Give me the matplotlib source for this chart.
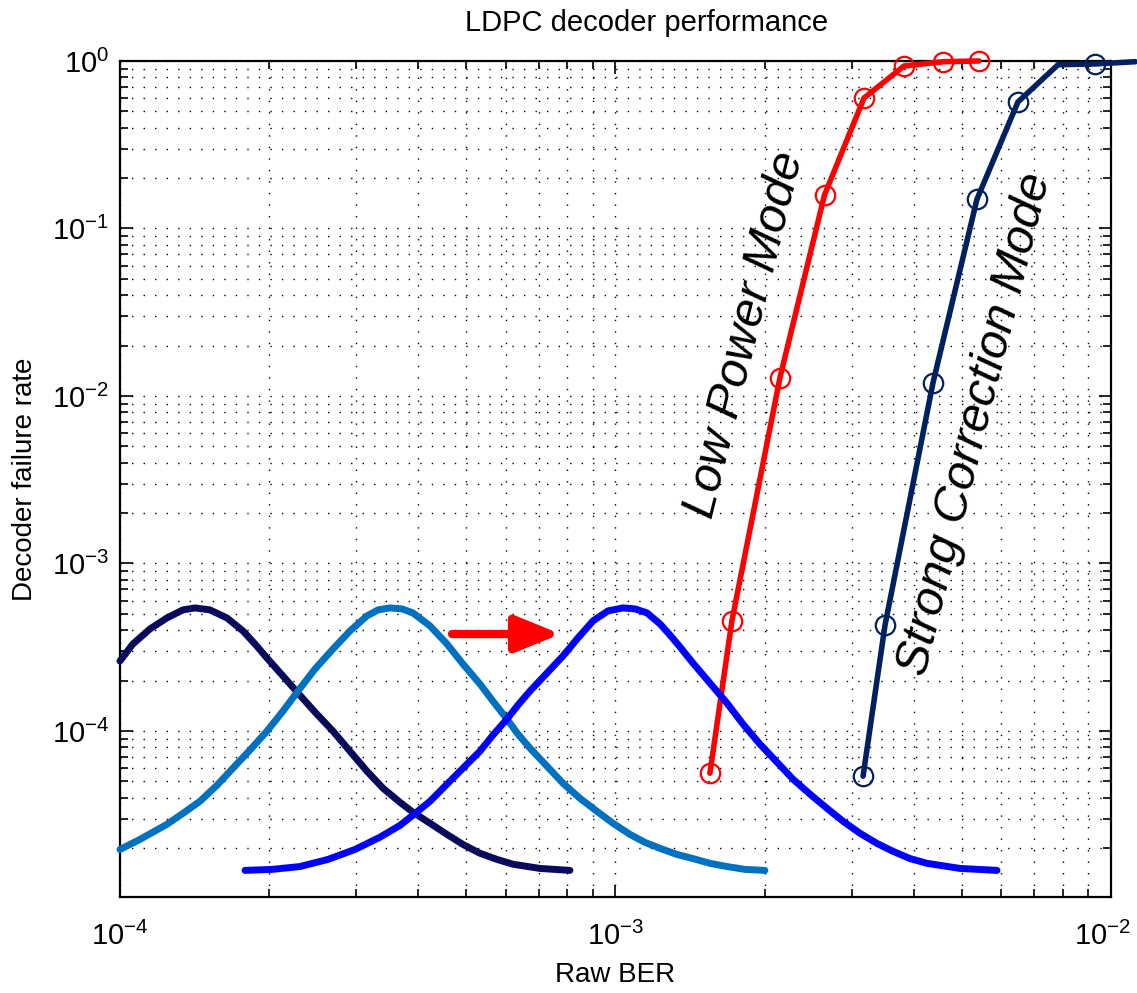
"""LDPC decoder performance: failure rate vs raw BER, with BER distributions."""
import matplotlib
matplotlib.use('Agg')
import matplotlib.pyplot as plt
import matplotlib.ticker as mticker
import matplotlib.transforms as mtransforms

plt.rcParams.update({
    'font.family': ['Liberation Sans', 'DejaVu Sans'],
    'mathtext.fontset': 'custom',
    'mathtext.rm': 'Liberation Sans',
    'mathtext.it': 'Liberation Sans:italic',
    'font.size': 20,
})

# decoder failure curves (x: raw BER, y: failure rate)
low_x = [1.551e-3, 1.718e-3, 2.148e-3, 2.642e-3, 3.174e-3, 3.821e-3, 4.59e-3, 5.415e-3]
low_y = [5.59e-5, 4.54e-4, 1.288e-2, 0.1586, 0.601, 0.933, 0.99, 1.0]

strong_x = [3.16e-3, 3.50e-3, 4.374e-3, 5.365e-3, 6.49e-3, 7.82e-3, 9.28e-3, 11.2e-3]
strong_y = [5.37e-5, 4.29e-4, 1.20e-2, 0.1495, 0.569, 0.95, 0.96, 0.99]
strong_marks = [0, 1, 2, 3, 4, 6]

# raw BER distributions (both x and y in units of 1e-4)
navy_x = [1.000, 1.062, 1.150, 1.244, 1.340, 1.417, 1.519, 1.644, 1.771, 1.873,
          1.980, 2.133, 2.287, 2.475, 2.691, 2.912, 3.151, 3.395, 3.674, 3.902,
          4.224, 4.571, 4.923, 5.328, 5.764, 6.211, 7.04, 8.094]
navy_y = [2.615, 3.305, 4.064, 4.728, 5.280, 5.425, 5.280, 4.728, 3.953, 3.305,
          2.725, 2.127, 1.683, 1.296, 0.997, 0.757, 0.575, 0.455, 0.375, 0.327,
          0.281, 0.241, 0.210, 0.186, 0.171, 0.160, 0.151, 0.147]

light_x = [1.000, 1.097, 1.244, 1.340, 1.450, 1.570, 1.690, 1.829, 1.980, 2.133,
           2.287, 2.475, 2.691, 2.912, 3.151, 3.317, 3.507, 3.708, 3.902, 4.224,
           4.571, 4.923, 5.328, 5.658, 6.040, 6.357, 6.722, 7.273, 7.835, 8.478,
           9.177, 9.885, 10.70, 11.47, 12.30, 13.31, 14.33, 15.51, 16.79, 18.26, 20.03]
light_y = [0.196, 0.225, 0.277, 0.322, 0.380, 0.474, 0.599, 0.768, 0.997, 1.313,
           1.730, 2.342, 3.084, 3.953, 4.861, 5.280, 5.425, 5.354, 5.066, 4.235,
           3.305, 2.509, 1.905, 1.507, 1.177, 0.957, 0.789, 0.616, 0.487, 0.396,
           0.331, 0.281, 0.241, 0.216, 0.199, 0.183, 0.173, 0.162, 0.155, 0.149, 0.147]

blue_x = [1.788, 2.027, 2.308, 2.630, 2.981, 3.347, 3.674, 3.902, 4.224, 4.571,
          4.923, 5.328, 5.658, 6.040, 6.357, 6.722, 7.273, 7.835, 8.400, 9.008,
          9.658, 10.35, 10.95, 11.58, 12.30, 12.88, 13.50, 14.33, 15.51, 16.79,
          18.09, 19.57, 21.18, 22.82, 24.70, 26.72, 28.79, 31.14, 33.71, 36.32,
          39.30, 42.53, 49.6, 58.88]
blue_y = [0.147, 0.149, 0.155, 0.171, 0.196, 0.232, 0.273, 0.314, 0.380, 0.481,
          0.599, 0.757, 0.944, 1.177, 1.427, 1.730, 2.216, 2.802, 3.589, 4.536,
          5.208, 5.425, 5.354, 5.066, 4.353, 3.741, 3.170, 2.544, 1.932, 1.466,
          1.098, 0.834, 0.651, 0.515, 0.419, 0.345, 0.289, 0.245, 0.213, 0.191,
          0.173, 0.162, 0.151, 0.147]

x_major = [1e-4, 1e-3, 1e-2]

fig = plt.figure(figsize=(11.37, 9.93), dpi=100)
ax = fig.add_axes([0.1055, 0.0967, 0.8716, 0.8419])
ax.set_xscale('log')
ax.set_yscale('log')

# failure curves
ax.plot(low_x, low_y, color='#ff0000', lw=4, marker='o', ms=14, mfc='none',
        mec='#ff0000', mew=1.6, clip_on=False, solid_capstyle='round', zorder=3)
ax.plot(strong_x, strong_y, color='#002060', lw=4, marker='o', ms=14, mfc='none',
        mec='#002060', mew=1.6, markevery=strong_marks, clip_on=False,
        solid_capstyle='round', zorder=3)

# BER distributions
for xs, ys, col in [(navy_x, navy_y, '#0a0a5c'), (light_x, light_y, '#0070c0'),
                    (blue_x, blue_y, '#0000ff')]:
    ax.plot([v * 1e-4 for v in xs], [v * 1e-4 for v in ys], color=col, lw=5,
            solid_capstyle='round', solid_joinstyle='round', clip_on=False, zorder=4)

# shift arrow
ax.annotate('', xy=(7.75e-4, 3.79e-4), xytext=(4.68e-4, 3.79e-4),
            arrowprops=dict(arrowstyle='-|>,head_length=1.35,head_width=0.55',
                            color='#ff0000', lw=6, shrinkA=0, shrinkB=0,
                            capstyle='round'), zorder=5)

ax.text(1.825e-3, 2.3e-2, 'Low Power Mode', rotation=76, style='italic', fontsize=35,
        ha='center', va='center', rotation_mode='anchor')
ax.text(5.32e-3, 6.75e-3, 'Strong Correction Mode', rotation=76, style='italic',
        fontsize=35, ha='center', va='center', rotation_mode='anchor')

ax.set_xlim(1e-4, 1e-2)
ax.set_ylim(1.02e-5, 1)
ax.set_xticks(x_major)
ax.xaxis.set_minor_formatter(mticker.NullFormatter())
ax.yaxis.set_minor_formatter(mticker.NullFormatter())
ax.yaxis.set_major_locator(mticker.LogLocator(base=10, numticks=10))
ax.yaxis.set_minor_locator(mticker.LogLocator(base=10, subs=range(2, 10), numticks=20))

ax.grid(True, which='both', color='black', linestyle=(0, (1, 7.3)), linewidth=1.0)
ax.tick_params(which='both', direction='in', top=True, right=True, width=1.2)
ax.tick_params(which='major', length=9, labelsize=21)
ax.tick_params(axis='x', which='major', pad=18)
ax.tick_params(axis='y', which='major', pad=8)
ax.tick_params(which='minor', length=5.5)
for sp in ax.spines.values():
    sp.set_linewidth(1.6)

# nudge the rightmost x tick label so it stays inside the figure
last = ax.xaxis.get_major_ticks()[-1].label1
shift = mtransforms.ScaledTranslation(-9 / 100, 0, fig.dpi_scale_trans)
last.set_transform(last.get_transform() + shift)

ax.set_xlabel('Raw BER', fontsize=20, va='center')
ax.xaxis.set_label_coords(0.5, -0.0933)
ax.set_ylabel('Decoder failure rate', fontsize=20, va='center')
ax.yaxis.set_label_coords(-0.0959, 0.5)
ax.text(0.531, 1.0455, 'LDPC decoder performance', transform=ax.transAxes,
        ha='center', va='center', fontsize=21)

fig.savefig('out.png', dpi=100)
plt.close()
